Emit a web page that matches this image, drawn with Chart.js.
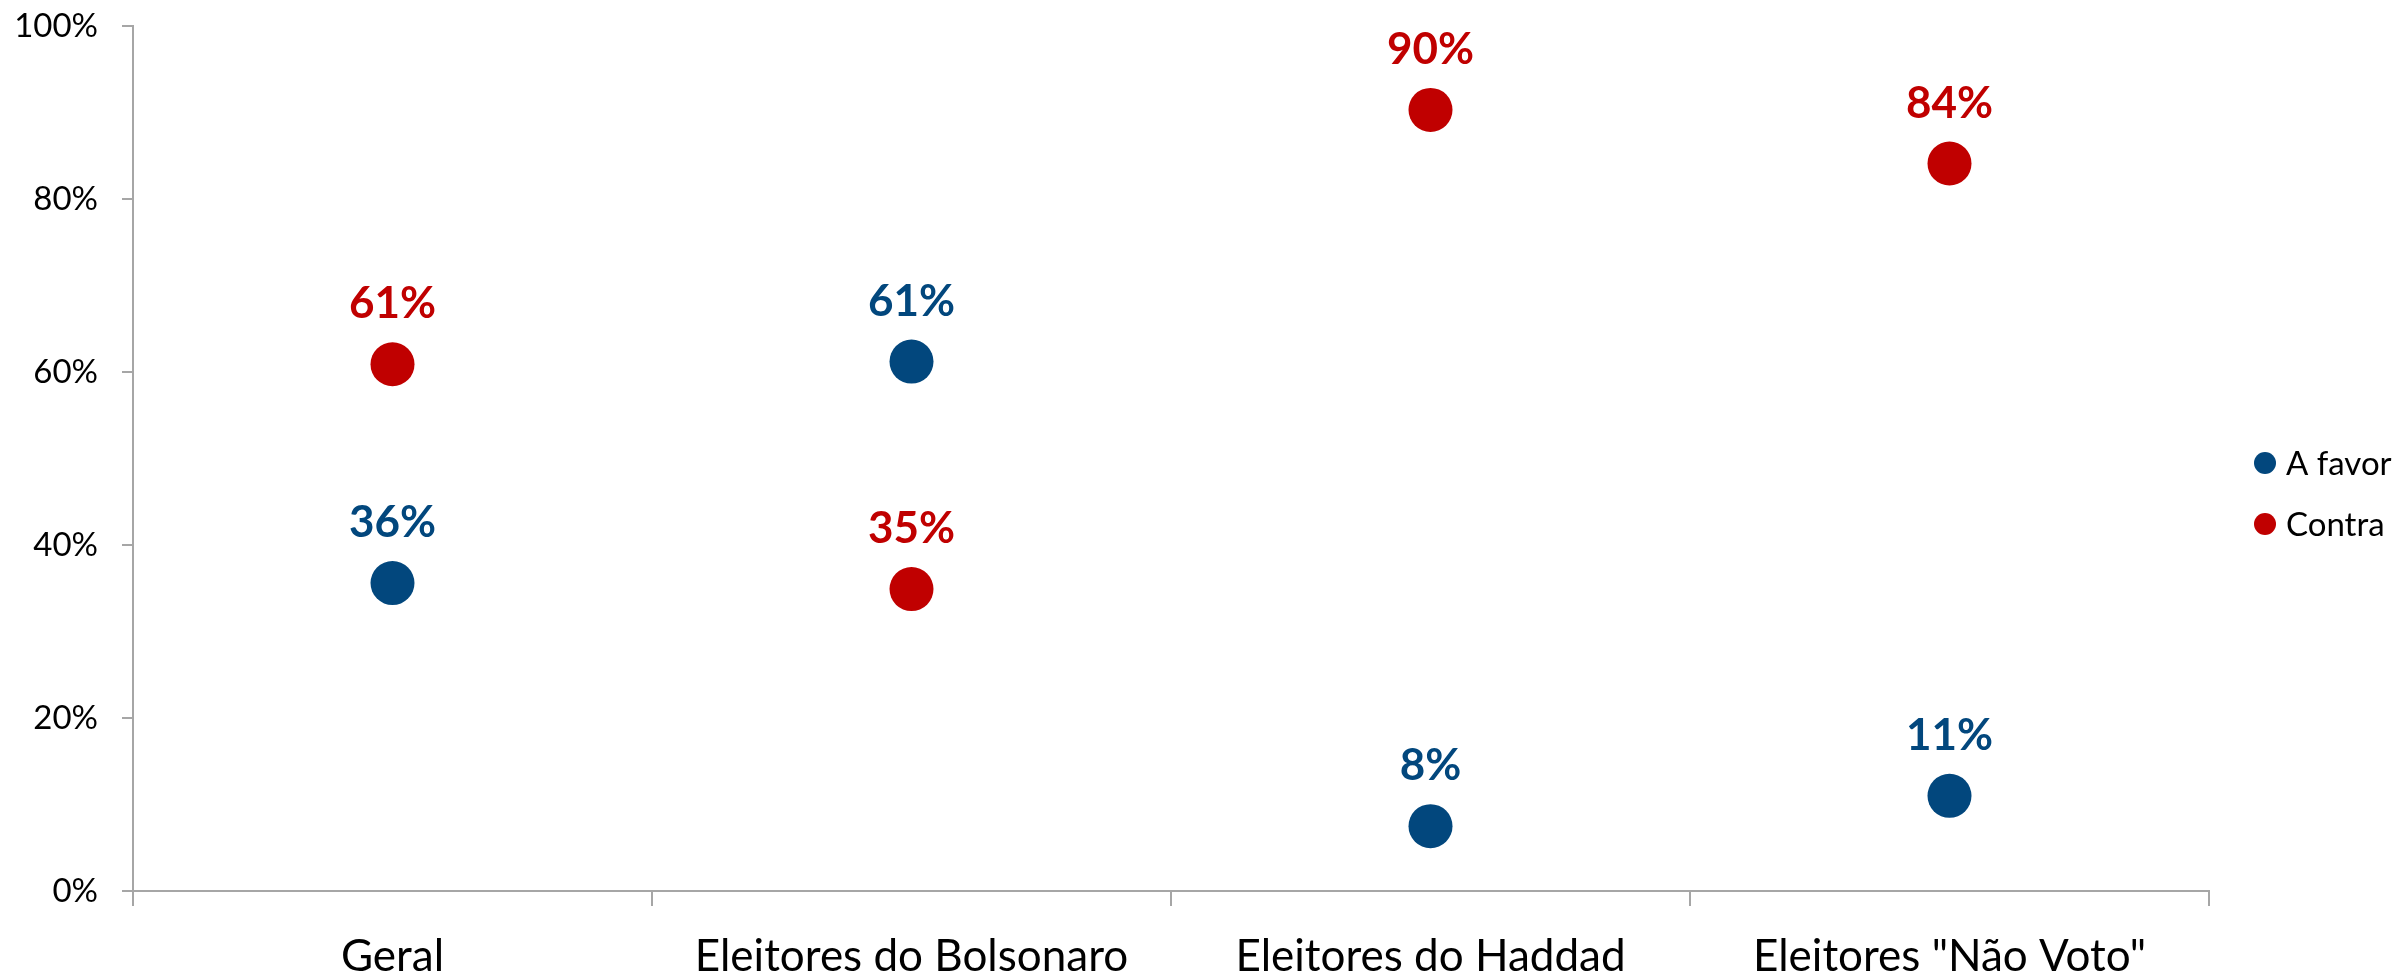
<!DOCTYPE html>
<html>
<head>
<meta charset="utf-8">
<script src="https://cdn.jsdelivr.net/npm/chart.js@4"></script>
<style>
  html, body { margin: 0; padding: 0; background: #fff; }
  #wrap { width: 2400px; height: 973px; }
</style>
</head>
<body>
<div id="wrap"><canvas id="myChart" width="2400" height="973"></canvas></div>
<script>
// categories on the x axis
var categorias = ['Geral', 'Eleitores do Bolsonaro', 'Eleitores do Haddad', 'Eleitores "Não Voto"'];
// values (percent)
var aFavor = [35.6, 61.2, 7.5, 11.0];
var contra = [60.9, 34.9, 90.3, 84.1];
// labels printed above each dot
var aFavorLabels = ['36%', '61%', '8%', '11%'];
var contraLabels = ['61%', '35%', '90%', '84%'];
var yTicks = [0, 20, 40, 60, 80, 100];

var AZUL = '#02477d';
var VERMELHO = '#c00000';

// draws the % values above each point
var pointLabels = {
  id: 'pointLabels',
  afterDatasetsDraw: function (chart) {
    var ctx = chart.ctx;
    ctx.save();
    ctx.font = 'bold 44px Lato';
    ctx.textAlign = 'center';
    ctx.textBaseline = 'alphabetic';
    chart.data.datasets.forEach(function (ds, i) {
      var meta = chart.getDatasetMeta(i);
      ctx.fillStyle = ds.backgroundColor;
      meta.data.forEach(function (pt, j) {
        ctx.fillText(ds.valueLabels[j], pt.x, pt.y - 46);
      });
    });
    ctx.restore();
  }
};

// simple legend on the right
var sideLegend = {
  id: 'sideLegend',
  afterDraw: function (chart) {
    var ctx = chart.ctx;
    ctx.save();
    ctx.font = '33px Lato';
    ctx.textBaseline = 'middle';
    ctx.textAlign = 'left';
    chart.data.datasets.forEach(function (ds, i) {
      var y = 463 + i * 61;
      ctx.fillStyle = ds.backgroundColor;
      ctx.beginPath();
      ctx.arc(2265, y, 11, 0, Math.PI * 2);
      ctx.fill();
      ctx.fillStyle = '#000';
      ctx.fillText(ds.label, 2286, y + 1);
    });
    ctx.restore();
  }
};

var ctx = document.getElementById('myChart').getContext('2d');
var myChart = new Chart(ctx, {
  type: 'line',
  data: {
    labels: categorias,
    datasets: [
      {
        label: 'A favor',
        data: aFavor,
        valueLabels: aFavorLabels,
        showLine: false,
        backgroundColor: AZUL,
        borderColor: AZUL,
        pointRadius: 22,
        pointHoverRadius: 22,
        pointBorderWidth: 0
      },
      {
        label: 'Contra',
        data: contra,
        valueLabels: contraLabels,
        showLine: false,
        backgroundColor: VERMELHO,
        borderColor: VERMELHO,
        pointRadius: 22,
        pointHoverRadius: 22,
        pointBorderWidth: 0
      }
    ]
  },
  options: {
    responsive: false,
    animation: false,
    layout: { padding: { top: 26, right: 191, left: 0, bottom: 0 } },
    plugins: {
      legend: { display: false },
      tooltip: { enabled: false }
    },
    scales: {
      x: {
        type: 'category',
        offset: true,
        grid: {
          offset: true,
          drawOnChartArea: false,
          color: '#a6a6a6',
          lineWidth: 2,
          tickLength: 15
        },
        border: { color: '#a6a6a6', width: 2 },
        ticks: {
          color: '#000',
          font: { family: 'Lato', size: 44 },
          padding: 24,
          maxRotation: 0,
          autoSkip: false
        },
        afterFit: function (scale) { scale.height = 82; }
      },
      y: {
        min: 0,
        max: 100,
        afterBuildTicks: function (scale) {
          scale.ticks = yTicks.map(function (v) { return { value: v }; });
        },
        grid: {
          drawOnChartArea: false,
          color: '#a6a6a6',
          lineWidth: 2,
          tickLength: 11
        },
        border: { color: '#a6a6a6', width: 2 },
        ticks: {
          color: '#000',
          font: { family: 'Lato', size: 33 },
          padding: 24,
          callback: function (value) { return value + '%'; }
        },
        afterFit: function (scale) {
          scale.width = 133;
          // keep the plot top where the reference has it
          scale.paddingTop = 0;
          scale.paddingBottom = 0;
        }
      }
    }
  },
  plugins: [pointLabels, sideLegend]
});
</script>
</body>
</html>
